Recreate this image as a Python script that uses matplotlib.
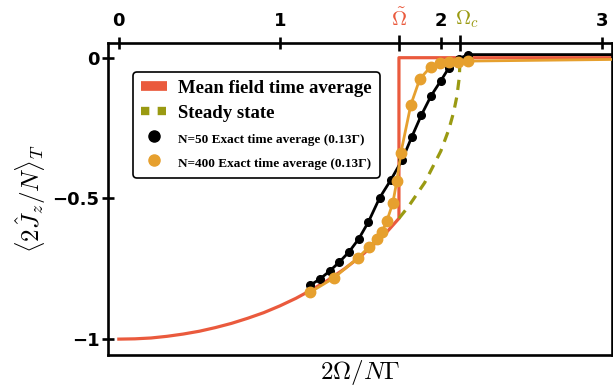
import matplotlib
matplotlib.use("Agg")
import matplotlib.pyplot as plt
from matplotlib.lines import Line2D
from matplotlib.transforms import ScaledTranslation

RED = "#ea5a3d"
ORANGE = "#e6a02e"
OLIVE = "#9a9a12"

OMEGA_T = 1.74   # \tilde{Omega}
OMEGA_C = 2.12   # Omega_c

# mean field time average
mf_x = [0.0, 0.1, 0.2, 0.3, 0.4, 0.5, 0.6, 0.7, 0.8, 0.9, 1.0, 1.1, 1.2, 1.3, 1.4,
        1.5, 1.6, 1.67, 1.74, 1.74, 3.1]
mf_y = [-1.0, -0.999, -0.996, -0.990, -0.982, -0.972, -0.959, -0.944, -0.926, -0.906,
        -0.882, -0.855, -0.824, -0.790, -0.751, -0.707, -0.656, -0.616, -0.571, 0.0, 0.0]

# steady state
ss_x = [1.74, 1.8, 1.9, 2.0, 2.05, 2.08, 2.1, 2.115, 2.12]
ss_y = [-0.571, -0.528, -0.444, -0.332, -0.255, -0.193, -0.137, -0.069, 0.0]

# N=50 exact time average (last point = plateau tail, no marker)
n50_x = [1.19, 1.25, 1.31, 1.37, 1.43, 1.49, 1.55, 1.62, 1.69, 1.76, 1.82, 1.88,
         1.94, 2.0, 2.05, 2.11, 2.17, 3.1]
n50_y = [-0.808, -0.786, -0.758, -0.726, -0.690, -0.644, -0.584, -0.498, -0.434,
         -0.363, -0.281, -0.203, -0.135, -0.082, -0.036, -0.004, 0.011, 0.011]

# N=400 exact time average
n400_x = [1.19, 1.335, 1.484, 1.553, 1.602, 1.634, 1.665, 1.702, 1.727, 1.752, 1.814,
          1.87, 1.938, 1.994, 2.05, 2.106, 2.168, 3.1]
n400_y = [-0.833, -0.783, -0.712, -0.673, -0.644, -0.619, -0.580, -0.516, -0.438,
          -0.338, -0.167, -0.075, -0.032, -0.018, -0.014, -0.014, -0.012, -0.006]

xticks = [0, 1, 2, 3, OMEGA_T, OMEGA_C]
xticklabels = ["0", "1", "2", "3", r"$\tilde{\mathbf{\Omega}}$", r"$\mathbf{\Omega}_c$"]
yticks = [-1, -0.5, 0]
yticklabels = ["\u22121", "\u22120.5", "0"]

legend_labels = ["Mean field time average", "Steady state",
                 "N=50 Exact time average (0.13\u0393)",
                 "N=400 Exact time average (0.13\u0393)"]

plt.rcParams["mathtext.fontset"] = "cm"

fig = plt.figure(figsize=(6.13, 3.89), dpi=100)
ax = fig.add_axes([0.176, 0.087, 0.822, 0.803])

ax.plot(mf_x, mf_y, color=RED, lw=2.3, zorder=2)
ax.plot(ss_x, ss_y, color=OLIVE, lw=2.3, dashes=(3.2, 2.4), zorder=2)
ax.plot(n50_x, n50_y, color="black", lw=2.0, marker="o", ms=5.5,
        markevery=slice(0, -1), zorder=3)
ax.plot(n400_x, n400_y, color=ORANGE, lw=2.0, marker="o", ms=7.5,
        markevery=slice(0, -1), zorder=4)

ax.set_xlim(-0.068, 3.062)
ax.set_ylim(-1.057, 0.053)

for sp in ax.spines.values():
    sp.set_linewidth(1.9)

ax.xaxis.tick_top()
ax.set_xticks(xticks)
ax.set_xticklabels(xticklabels)
ax.set_yticks(yticks)
ax.set_yticklabels(yticklabels)
ax.tick_params(direction="inout", length=8, width=1.9)
ax.tick_params(axis="x", pad=5)
ax.tick_params(axis="y", pad=2)
for lab in ax.get_xticklabels()[:4] + ax.get_yticklabels():
    lab.set_fontfamily("DejaVu Sans")
    lab.set_fontweight("bold")
    lab.set_fontsize(13)

ticks = ax.xaxis.get_major_ticks()
for tick, col in [(ticks[4], RED), (ticks[5], OLIVE)]:
    tick.tick2line.set_color(col)
    tick.tick2line.set_markersize(11)
    tick.label2.set_color(col)
    tick.label2.set_fontsize(15)
# the subscript pushes Omega_c left of its tick; nudge it right
ticks[5].label2.set_transform(ticks[5].label2.get_transform()
                              + ScaledTranslation(7 / 100, 0, fig.dpi_scale_trans))

ax.set_xlabel(r"$2\Omega/N\Gamma$", fontsize=18, labelpad=2)
ax.set_ylabel(r"$\langle 2\hat{J}_z/N\rangle_T$", fontsize=18, labelpad=3)

handles = [
    Line2D([], [], color=RED, lw=7, solid_capstyle="butt"),
    Line2D([], [], color=OLIVE, lw=6, dashes=(1, 1), dash_capstyle="butt"),
    Line2D([], [], color="black", marker="o", ls="none", ms=8),
    Line2D([], [], color=ORANGE, marker="o", ls="none", ms=8),
]
leg = ax.legend(handles, legend_labels, loc="upper left", bbox_to_anchor=(0.05, 0.907),
                borderaxespad=0, fancybox=True, framealpha=1, edgecolor="black",
                prop={"family": "Liberation Serif", "weight": "bold", "size": 13.5},
                handlelength=1.4, handletextpad=0.6, labelspacing=0.42,
                borderpad=0.42)
leg.get_frame().set_linewidth(1.2)
for t in leg.get_texts()[2:]:
    t.set_fontsize(9.5)

fig.savefig("out.png", dpi=100)
